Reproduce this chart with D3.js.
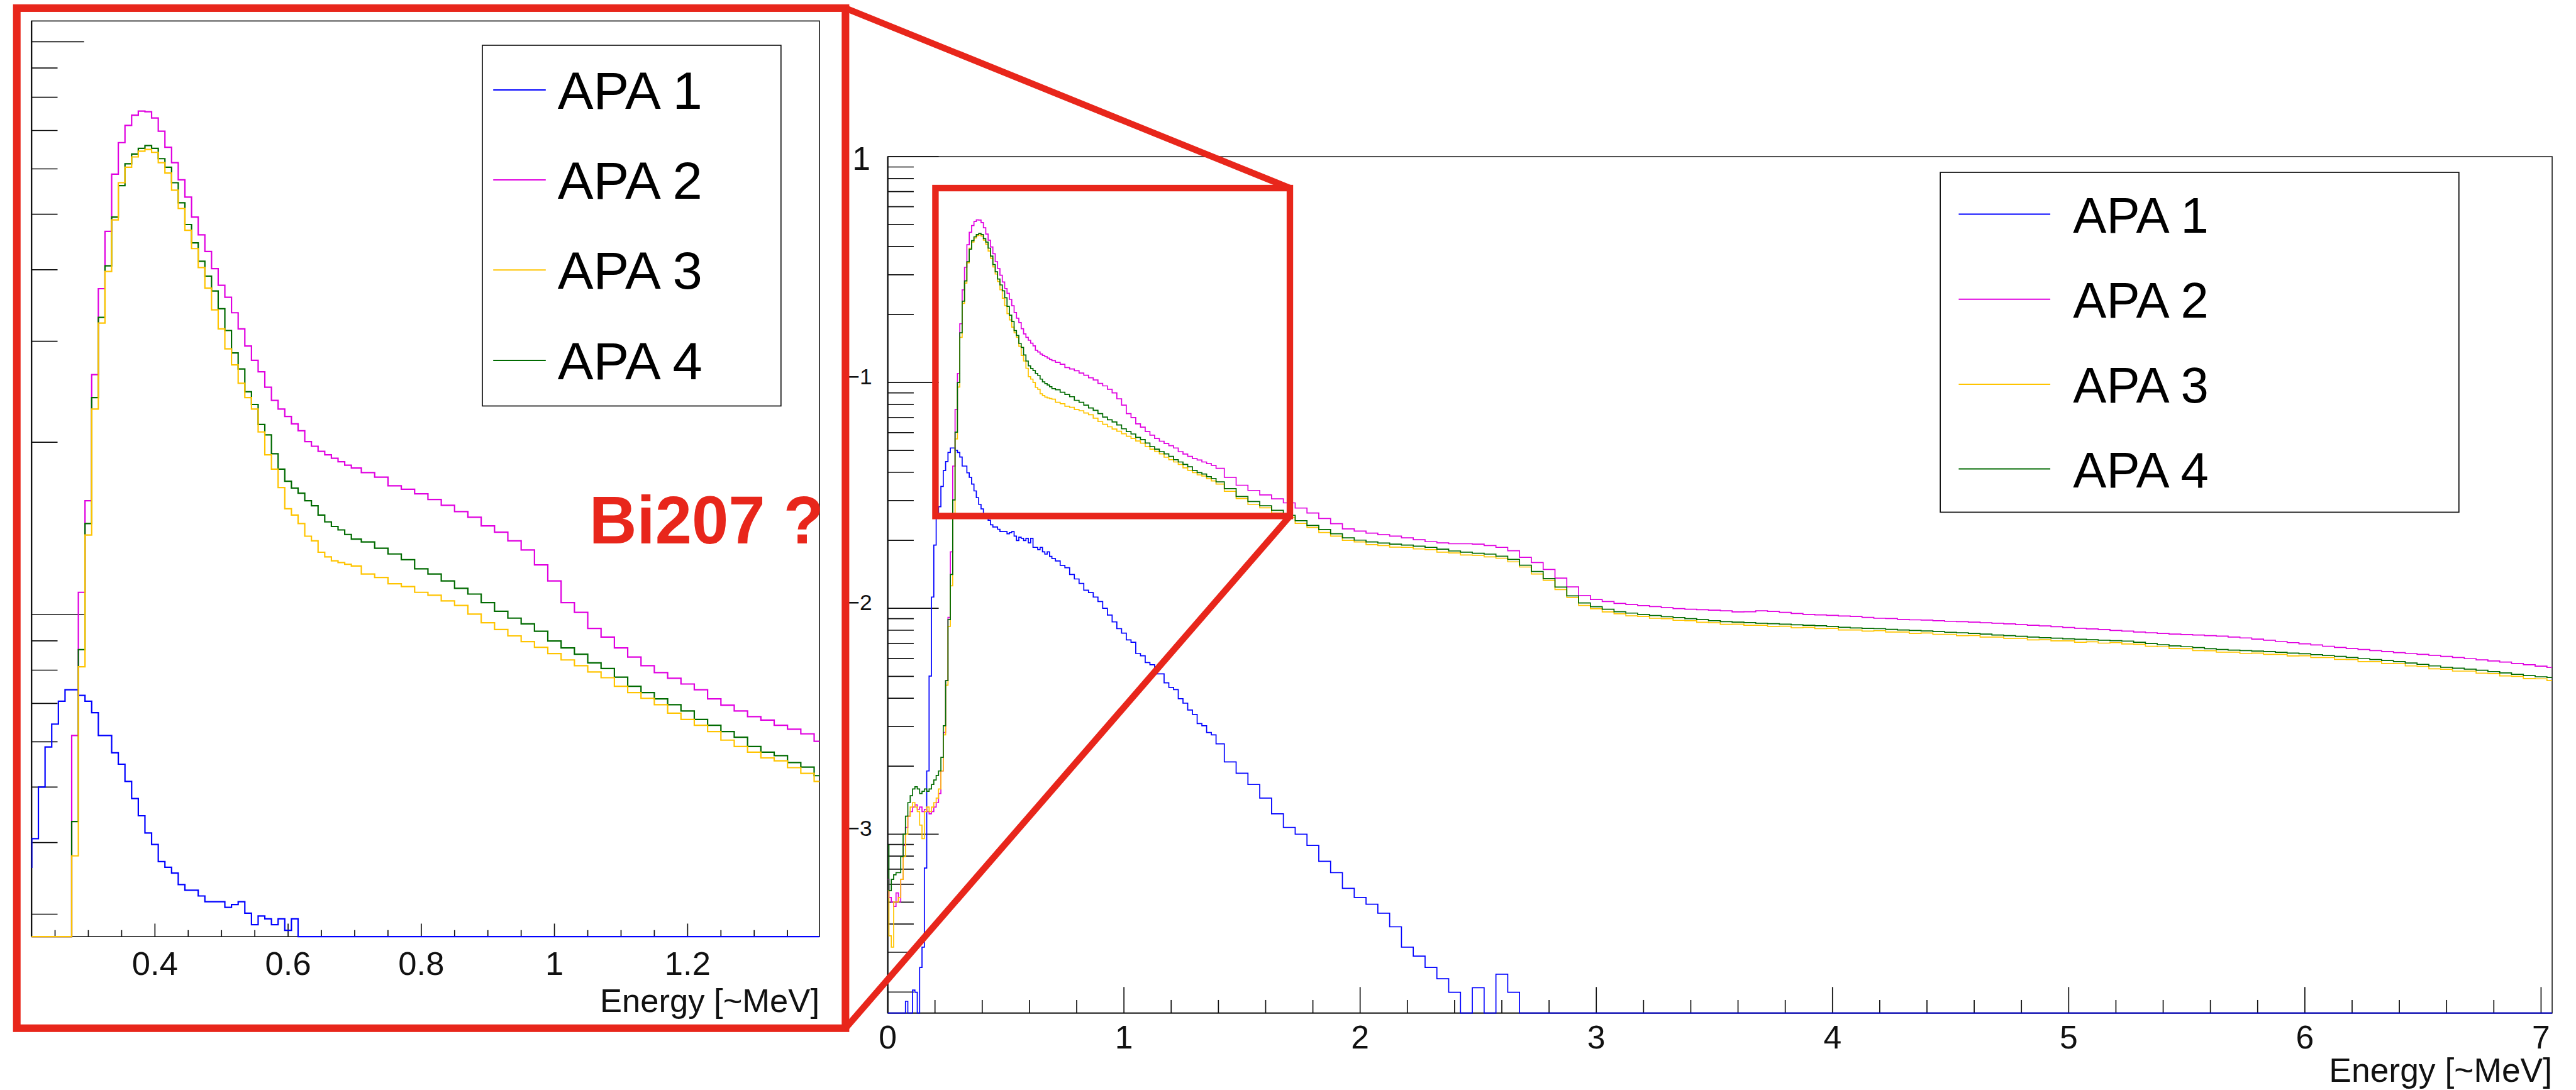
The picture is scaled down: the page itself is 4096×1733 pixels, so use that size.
<!DOCTYPE html>
<html>
<head>
<meta charset="utf-8">
<script src="https://cdn.jsdelivr.net/npm/d3@7"></script>
<style>
  html, body { margin: 0; padding: 0; background: #fff; overflow: hidden; }
  svg { display: block; }
</style>
</head>
<body>
<svg id="chart" width="4096" height="1733"></svg>
<script>
// Energy bin centres [~MeV]
const energy = [
  0, .01, .02, .03, .04, .05, .06, .07, .08, .09, .10, .11, .12, .13, .14, .15, .16, .17, .18, .19,
  .20, .21, .22, .23, .24, .25, .26, .27, .28, .29, .30, .31, .32, .33, .34, .35, .36, .37, .38, .39,
  .40, .41, .42, .43, .44, .45, .46, .47, .48, .49, .50, .51, .52, .53, .54, .55, .56, .57, .58, .59,
  .60, .61, .62, .63, .64, .65, .66, .67, .68, .69, .70,
  .72, .74, .76, .78, .80, .82, .84, .86, .88, .90, .92, .94, .96, .98, 1.00, 1.02, 1.04, 1.06, 1.08,
  1.10, 1.12, 1.14, 1.16, 1.18, 1.20, 1.22, 1.24, 1.26, 1.28, 1.30, 1.32, 1.34, 1.36, 1.38, 1.40,
  1.45, 1.50, 1.55, 1.60, 1.65, 1.70, 1.75, 1.80, 1.85, 1.90, 1.95, 2.00, 2.05, 2.10, 2.15, 2.20,
  2.25, 2.30, 2.35, 2.40, 2.45, 2.50, 2.55, 2.60, 2.65, 2.70, 2.75, 2.80, 2.85, 2.90, 2.95, 3.00,
  3.05, 3.10, 3.15, 3.20, 3.25, 3.30, 3.35, 3.40, 3.45, 3.50, 3.55, 3.60, 3.65, 3.70, 3.75, 3.80,
  3.85, 3.90, 3.95, 4.00, 4.05, 4.10, 4.15, 4.20, 4.25, 4.30, 4.35, 4.40, 4.45, 4.50, 4.55, 4.60,
  4.65, 4.70, 4.75, 4.80, 4.85, 4.90, 4.95, 5.00, 5.05, 5.10, 5.15, 5.20, 5.25, 5.30, 5.35, 5.40,
  5.45, 5.50, 5.55, 5.60, 5.65, 5.70, 5.75, 5.80, 5.85, 5.90, 5.95, 6.00, 6.05, 6.10, 6.15, 6.20,
  6.25, 6.30, 6.35, 6.40, 6.45, 6.50, 6.55, 6.60, 6.65, 6.70, 6.75, 6.80, 6.85, 6.90, 6.95, 7.00, 7.05
];

// log10 of the normalised counts per bin; null marks an empty bin
const apa1 = [
  null, null, null, null, null, null, null, null, -3.74, null, null, -3.69, -3.70, null, -3.59, -3.50,
  -3.15, -2.72, -2.30, -1.95, -1.72, -1.60, -1.55, -1.46, -1.39, -1.35, -1.31, -1.29, -1.29, -1.30,
  -1.31, -1.33, -1.37, -1.37, -1.40, -1.42, -1.45, -1.48, -1.51, -1.54, -1.56, -1.59, -1.60, -1.61,
  -1.63, -1.64, -1.64, -1.65, -1.66, -1.66, -1.66, -1.67, -1.665, -1.66, -1.68, -1.70, -1.685, -1.69,
  -1.70, -1.69, -1.71, -1.69, -1.73, -1.73, -1.74, -1.73, -1.75, -1.76, -1.75, -1.77, -1.78,
  -1.79, -1.81, -1.82, -1.85, -1.87, -1.89, -1.92, -1.93, -1.95, -1.97, -2.00, -2.03, -2.06, -2.09,
  -2.11, -2.14, -2.15, -2.20, -2.21, -2.24, -2.25, -2.29, -2.29, -2.33, -2.35, -2.36, -2.40, -2.42,
  -2.45, -2.47, -2.51, -2.52, -2.55, -2.56, -2.60,
  -2.68, -2.73, -2.78, -2.84, -2.91, -2.97, -3.00, -3.05, -3.12, -3.17, -3.24, -3.28, -3.31, -3.35,
  -3.41, -3.50, -3.54, -3.59, -3.64, -3.70, null, -3.68, null, -3.62, -3.70
];

const apa2 = [
  -3.20, -3.28, -3.30, -3.32, -3.26, -3.30, -3.20, -3.05, -2.97, -2.92, -2.90, -2.88, -2.87, -2.89,
  -2.88, -2.90, -2.89, -2.90, -2.91, -2.90, -2.88, -2.86, -2.82, -2.72, -2.55, -2.32, -2.04, -1.75,
  -1.37, -1.12, -0.96, -0.74, -0.59, -0.49, -0.39, -0.335, -0.305, -0.287, -0.280, -0.281, -0.292,
  -0.315, -0.343, -0.370, -0.400, -0.430, -0.465, -0.496, -0.525, -0.555, -0.584, -0.605, -0.632,
  -0.660, -0.690, -0.715, -0.735, -0.762, -0.785, -0.800, -0.813, -0.826, -0.838, -0.857, -0.865,
  -0.874, -0.880, -0.886, -0.892, -0.898, -0.903,
  -0.911, -0.919, -0.934, -0.940, -0.948, -0.958, -0.968, -0.979, -0.989, -1.004, -1.015, -1.030,
  -1.046, -1.072, -1.100, -1.138, -1.155, -1.183, -1.198, -1.217, -1.233, -1.248, -1.260, -1.270,
  -1.280, -1.290, -1.306, -1.317, -1.327, -1.337, -1.343, -1.352, -1.359, -1.367, -1.380,
  -1.420, -1.455, -1.478, -1.498, -1.515, -1.533, -1.556, -1.578, -1.602, -1.625, -1.648,
  -1.658, -1.667, -1.674, -1.680, -1.688, -1.696, -1.705, -1.710, -1.714, -1.714,
  -1.716, -1.722, -1.730, -1.745, -1.774, -1.797, -1.828, -1.866, -1.905, -1.943,
  -1.961, -1.970, -1.978, -1.983, -1.988, -1.992, -1.997, -2.001, -2.004, -2.006,
  -2.008, -2.011, -2.016, -2.015, -2.011, -2.014, -2.018, -2.023, -2.027, -2.029,
  -2.031, -2.034, -2.036, -2.040, -2.044, -2.045, -2.049, -2.051, -2.052, -2.055,
  -2.058, -2.059, -2.061, -2.064, -2.066, -2.069, -2.072, -2.075, -2.078, -2.081,
  -2.085, -2.088, -2.091, -2.094, -2.098, -2.101, -2.105, -2.108, -2.111, -2.114,
  -2.116, -2.118, -2.121, -2.123, -2.127, -2.131, -2.136, -2.141, -2.147, -2.152,
  -2.157, -2.162, -2.168, -2.173, -2.178, -2.182, -2.187, -2.191, -2.196, -2.200,
  -2.204, -2.208, -2.213, -2.218, -2.223, -2.228, -2.233, -2.238, -2.244, -2.250,
  -2.256, -2.262
];

const apa3 = [
  -3.25, -3.45, -3.50, -3.30, -3.30, -3.28, -3.20, -3.10, -3.00, -2.92, -2.88, -2.86, -2.88, -2.90,
  -2.96, -3.02, -2.90, -2.88, -2.90, -2.88, -2.86, -2.84, -2.80, -2.72, -2.56, -2.34, -2.08, -1.90,
  -1.58, -1.25, -1.02, -0.80, -0.65, -0.56, -0.47, -0.405, -0.378, -0.360, -0.350, -0.347, -0.352,
  -0.370, -0.388, -0.418, -0.450, -0.488, -0.520, -0.553, -0.589, -0.627, -0.660, -0.695, -0.723,
  -0.755, -0.780, -0.800, -0.840, -0.880, -0.905, -0.937, -0.974, -0.985, -1.000, -1.022, -1.030,
  -1.050, -1.058, -1.065, -1.068, -1.071, -1.074,
  -1.088, -1.094, -1.105, -1.110, -1.120, -1.125, -1.135, -1.143, -1.158, -1.173, -1.185, -1.196,
  -1.206, -1.216, -1.227, -1.238, -1.248, -1.259, -1.269, -1.284, -1.295, -1.305, -1.316, -1.331,
  -1.342, -1.352, -1.363, -1.378, -1.389, -1.399, -1.409, -1.414, -1.426, -1.436, -1.450,
  -1.482, -1.514, -1.540, -1.555, -1.578, -1.597, -1.624, -1.642, -1.664, -1.680, -1.699,
  -1.706, -1.718, -1.722, -1.729, -1.730, -1.737, -1.740, -1.751, -1.755, -1.764,
  -1.765, -1.772, -1.778, -1.794, -1.817, -1.848, -1.876, -1.917, -1.952, -1.987,
  -2.002, -2.016, -2.024, -2.033, -2.036, -2.044, -2.046, -2.053, -2.055, -2.062,
  -2.064, -2.071, -2.070, -2.075, -2.075, -2.080, -2.079, -2.086, -2.084, -2.090,
  -2.089, -2.096, -2.096, -2.101, -2.099, -2.105, -2.105, -2.111, -2.109, -2.115,
  -2.115, -2.121, -2.120, -2.127, -2.127, -2.133, -2.133, -2.140, -2.139, -2.144,
  -2.144, -2.150, -2.148, -2.154, -2.152, -2.158, -2.159, -2.168, -2.170, -2.178,
  -2.179, -2.187, -2.188, -2.194, -2.194, -2.200, -2.198, -2.204, -2.204, -2.211,
  -2.210, -2.218, -2.218, -2.226, -2.227, -2.236, -2.236, -2.244, -2.245, -2.255,
  -2.257, -2.268, -2.270, -2.278, -2.278, -2.287, -2.289, -2.299, -2.301, -2.311,
  -2.312, -2.320
];

const apa4 = [
  -3.05, -3.25, -3.20, -3.18, -3.17, -3.17, -3.10, -3.00, -2.92, -2.86, -2.83, -2.80, -2.79, -2.80,
  -2.82, -2.81, -2.80, -2.81, -2.80, -2.78, -2.76, -2.74, -2.72, -2.66, -2.52, -2.32, -2.05, -1.85,
  -1.52, -1.22, -1.00, -0.78, -0.64, -0.55, -0.465, -0.410, -0.372, -0.355, -0.345, -0.340, -0.345,
  -0.363, -0.378, -0.405, -0.440, -0.478, -0.510, -0.542, -0.568, -0.594, -0.625, -0.663, -0.702,
  -0.730, -0.770, -0.792, -0.827, -0.845, -0.878, -0.905, -0.926, -0.938, -0.947, -0.960, -0.969,
  -0.985, -0.997, -1.005, -1.011, -1.019, -1.027,
  -1.032, -1.043, -1.053, -1.063, -1.079, -1.088, -1.100, -1.113, -1.123, -1.138, -1.153, -1.165,
  -1.175, -1.188, -1.205, -1.217, -1.228, -1.243, -1.253, -1.268, -1.284, -1.295, -1.306, -1.316,
  -1.327, -1.342, -1.352, -1.363, -1.373, -1.389, -1.399, -1.405, -1.417, -1.425, -1.440,
  -1.470, -1.505, -1.527, -1.546, -1.566, -1.588, -1.612, -1.633, -1.651, -1.670, -1.688,
  -1.698, -1.706, -1.711, -1.716, -1.720, -1.725, -1.730, -1.738, -1.746, -1.751,
  -1.756, -1.760, -1.769, -1.783, -1.809, -1.837, -1.868, -1.906, -1.945, -1.976,
  -1.993, -2.004, -2.015, -2.021, -2.027, -2.032, -2.037, -2.041, -2.046, -2.050,
  -2.055, -2.059, -2.061, -2.063, -2.066, -2.068, -2.070, -2.073, -2.075, -2.077,
  -2.080, -2.084, -2.087, -2.089, -2.090, -2.093, -2.096, -2.098, -2.100, -2.103,
  -2.106, -2.108, -2.111, -2.114, -2.118, -2.121, -2.124, -2.127, -2.130, -2.132,
  -2.135, -2.137, -2.139, -2.141, -2.143, -2.145, -2.150, -2.156, -2.161, -2.166,
  -2.170, -2.174, -2.179, -2.182, -2.185, -2.187, -2.189, -2.191, -2.195, -2.198,
  -2.201, -2.205, -2.209, -2.213, -2.218, -2.223, -2.227, -2.231, -2.236, -2.242,
  -2.248, -2.255, -2.261, -2.265, -2.269, -2.274, -2.280, -2.286, -2.292, -2.298,
  -2.303, -2.306
];

const seriesNames = ["APA 1", "APA 2", "APA 3", "APA 4"];
const seriesColors = ["#0000ff", "#e000e0", "#ffc400", "#006a00"];
const seriesData = [apa1, apa2, apa3, apa4];

const xTickLabels = ["0", "1", "2", "3", "4", "5", "6", "7"];
const insetTickLabels = ["0.4", "0.6", "0.8", "1", "1.2"];
const axisTitle = "Energy [~MeV]";
const note = "Bi207 ?";

// the zoomed panel shows the same spectra with a different normalisation
const insetNorm = 1.442;

// ---------------------------------------------------------------------------
const S = 4096 / 4753;            // all layout numbers below are in canvas units * S
const FONT = "'Liberation Sans', Arial, Helvetica, sans-serif";
const RED = "#e8261b";
const svg = d3.select("#chart");

const main = { l: 1638 * S, r: 4709 * S, t: 289 * S, b: 1869 * S };
const inset = { l: 58.2 * S, r: 1512 * S, t: 38.7 * S, b: 1728 * S };

const xMain = d3.scaleLinear().domain([0, 7.047]).range([main.l, main.r]);
const yMain = d3.scaleLog().domain([Math.pow(10, -3.792), 1]).range([main.b, main.t]).clamp(true);

const xIn = d3.scaleLinear().domain([0.2147, 1.398]).range([inset.l, inset.r]);
const yIn = d3.scaleLog().domain([Math.pow(10, -1.562), Math.pow(10, 0.0363)]).range([inset.b, inset.t]).clamp(true);

function points(arr, norm) {
  return energy.map((e, i) => {
    const v = arr[i];
    return [e, (v === null || v === undefined) ? 0 : Math.pow(10, v) * norm];
  });
}

function histLine(xs, ys) {
  const floor = ys.domain()[0];
  return d3.line().curve(d3.curveStep)
    .x(d => xs(d[0]))
    .y(d => ys(d[1] > 0 ? d[1] : floor));
}

// ---------------- main panel ----------------
const gMain = svg.append("g");
gMain.append("clipPath").attr("id", "clipMain")
  .append("rect").attr("x", main.l).attr("y", main.t)
  .attr("width", main.r - main.l).attr("height", main.b - main.t + 2);

// frame and axis lines
gMain.append("rect").attr("x", main.l).attr("y", main.t)
  .attr("width", main.r - main.l).attr("height", main.b - main.t)
  .attr("fill", "none").attr("stroke", "#222").attr("stroke-width", 1.6);
gMain.append("line").attr("x1", main.l).attr("x2", main.l).attr("y1", main.t).attr("y2", main.b)
  .attr("stroke", "#111").attr("stroke-width", 2.2);
gMain.append("line").attr("x1", main.l).attr("x2", main.r).attr("y1", main.b).attr("y2", main.b)
  .attr("stroke", "#111").attr("stroke-width", 1.8);

// y ticks (log)
const yTicksMain = yMain.ticks();
gMain.selectAll("line.yt").data(yTicksMain).join("line").attr("class", "yt")
  .attr("x1", main.l)
  .attr("x2", d => main.l + (Math.abs(Math.log10(d) - Math.round(Math.log10(d))) < 1e-9 ? 94 : 48) * S)
  .attr("y1", d => yMain(d)).attr("y2", d => yMain(d))
  .attr("stroke", "#111").attr("stroke-width", 1.7);

const yMajorMain = [1, 0.1, 0.01, 0.001];
gMain.selectAll("text.yl").data(yMajorMain).join("text").attr("class", "yl")
  .attr("x", d => (d === 1 ? 1606 : 1609) * S)
  .attr("y", d => yMain(d) + (d === 1 ? 24 : 3) * S)
  .attr("text-anchor", "end")
  .attr("font-family", FONT)
  .attr("font-size", d => (d === 1 ? 60 : 41) * S)
  .attr("fill", "#111")
  .text(d => d === 1 ? "1" : "\u2212" + Math.round(-Math.log10(d)));

// x ticks
const xMinorMain = d3.range(0, 36).map(i => i * 0.2);
gMain.selectAll("line.xt").data(xMinorMain).join("line").attr("class", "xt")
  .attr("x1", d => xMain(d)).attr("x2", d => xMain(d))
  .attr("y1", main.b)
  .attr("y2", (d, i) => main.b - (i % 5 === 0 ? 48 : 24) * S)
  .attr("stroke", "#111").attr("stroke-width", 1.7);
gMain.selectAll("text.xl").data(xTickLabels).join("text").attr("class", "xl")
  .attr("x", (d, i) => xMain(i)).attr("y", 1934 * S)
  .attr("text-anchor", "middle").attr("font-family", FONT)
  .attr("font-size", 60 * S).attr("fill", "#111").text(d => d);
gMain.append("text").attr("x", main.r).attr("y", 1996 * S)
  .attr("text-anchor", "end").attr("font-family", FONT)
  .attr("font-size", 62 * S).attr("fill", "#111").text(axisTitle);

// spectra
const lineMain = histLine(xMain, yMain);
const mainOrder = [0, 1, 2, 3];
gMain.append("g").attr("clip-path", "url(#clipMain)")
  .selectAll("path").data(mainOrder).join("path")
  .attr("d", i => lineMain(points(seriesData[i], 1)))
  .attr("fill", "none")
  .attr("stroke", i => seriesColors[i])
  .attr("stroke-width", 1.7)
  .attr("stroke-linejoin", "miter");

// legend
const legM = { l: 3580 * S, r: 4537 * S, t: 318 * S, b: 945 * S };
gMain.append("rect").attr("x", legM.l).attr("y", legM.t)
  .attr("width", legM.r - legM.l).attr("height", legM.b - legM.t)
  .attr("fill", "#fff").attr("stroke", "#111").attr("stroke-width", 1.7);
const legMRows = [395, 552, 709, 865];
seriesNames.forEach((name, i) => {
  const yy = legMRows[i] * S;
  gMain.append("line").attr("x1", 3614 * S).attr("x2", 3783 * S).attr("y1", yy).attr("y2", yy)
    .attr("stroke", seriesColors[i]).attr("stroke-width", 2);
  gMain.append("text").attr("x", 3825 * S).attr("y", yy + 34 * S)
    .attr("font-family", FONT).attr("font-size", 92 * S).attr("fill", "#000")
    .attr("textLength", 250 * S).attr("lengthAdjust", "spacingAndGlyphs")
    .text(name);
});

// ---------------- zoomed panel ----------------
const gIn = svg.append("g");
gIn.append("rect").attr("x", 0).attr("y", 0).attr("width", 1560 * S).attr("height", 1897 * S)
  .attr("fill", "#fff");
gIn.append("clipPath").attr("id", "clipIn")
  .append("rect").attr("x", inset.l).attr("y", inset.t)
  .attr("width", inset.r - inset.l).attr("height", inset.b - inset.t + 2);

gIn.append("rect").attr("x", inset.l).attr("y", inset.t)
  .attr("width", inset.r - inset.l).attr("height", inset.b - inset.t)
  .attr("fill", "none").attr("stroke", "#222").attr("stroke-width", 1.7);
gIn.append("line").attr("x1", inset.l).attr("x2", inset.l).attr("y1", inset.t).attr("y2", inset.b)
  .attr("stroke", "#111").attr("stroke-width", 2.4);

const yTicksIn = yIn.ticks();
gIn.selectAll("line.yt").data(yTicksIn).join("line").attr("class", "yt")
  .attr("x1", inset.l)
  .attr("x2", d => inset.l + (Math.abs(Math.log10(d) - Math.round(Math.log10(d))) < 1e-9 ? 97 : 48) * S)
  .attr("y1", d => yIn(d)).attr("y2", d => yIn(d))
  .attr("stroke", "#111").attr("stroke-width", 1.7);

const xMinorIn = d3.range(5, 28).map(i => i * 0.05);
gIn.selectAll("line.xt").data(xMinorIn).join("line").attr("class", "xt")
  .attr("x1", d => xIn(d)).attr("x2", d => xIn(d))
  .attr("y1", inset.b)
  .attr("y2", (d, i) => inset.b - ((i + 5) % 4 === 0 ? 24 : 12) * S)
  .attr("stroke", "#111").attr("stroke-width", 1.7);
gIn.selectAll("text.xl").data(insetTickLabels).join("text").attr("class", "xl")
  .attr("x", d => xIn(+d)).attr("y", 1799 * S)
  .attr("text-anchor", "middle").attr("font-family", FONT)
  .attr("font-size", 61 * S).attr("fill", "#111").text(d => d);
gIn.append("text").attr("x", inset.r).attr("y", 1867 * S)
  .attr("text-anchor", "end").attr("font-family", FONT)
  .attr("font-size", 61 * S).attr("fill", "#111").text(axisTitle);

const lineIn = histLine(xIn, yIn);
const insetOrder = [0, 1, 3, 2];
gIn.append("g").attr("clip-path", "url(#clipIn)")
  .selectAll("path").data(insetOrder).join("path")
  .attr("d", i => lineIn(points(seriesData[i], insetNorm)))
  .attr("fill", "none")
  .attr("stroke", i => seriesColors[i])
  .attr("stroke-width", 2.2);

const legI = { l: 890 * S, r: 1441 * S, t: 83.5 * S, b: 749 * S };
gIn.append("rect").attr("x", legI.l).attr("y", legI.t)
  .attr("width", legI.r - legI.l).attr("height", legI.b - legI.t)
  .attr("fill", "#fff").attr("stroke", "#111").attr("stroke-width", 1.7);
const legIRows = [166, 332, 498, 665];
seriesNames.forEach((name, i) => {
  const yy = legIRows[i] * S;
  gIn.append("line").attr("x1", 910 * S).attr("x2", 1007 * S).attr("y1", yy).attr("y2", yy)
    .attr("stroke", seriesColors[i]).attr("stroke-width", 2);
  gIn.append("text").attr("x", 1029 * S).attr("y", yy + 35 * S)
    .attr("font-family", FONT).attr("font-size", 96 * S).attr("fill", "#000")
    .attr("textLength", 267 * S).attr("lengthAdjust", "spacingAndGlyphs")
    .text(name);
});

// ---------------- annotations ----------------
const gAnn = svg.append("g").attr("fill", "none").attr("stroke", RED);
gAnn.append("rect").attr("x", 31 * S).attr("y", 15 * S)
  .attr("width", (1560 - 31) * S).attr("height", (1897 - 15) * S)
  .attr("stroke-width", 14 * S);
gAnn.append("rect").attr("x", 1726 * S).attr("y", 347 * S)
  .attr("width", (2380 - 1726) * S).attr("height", (952 - 347) * S)
  .attr("stroke-width", 12 * S);
gAnn.append("line").attr("x1", 1560 * S).attr("y1", 15 * S).attr("x2", 2380 * S).attr("y2", 347 * S)
  .attr("stroke-width", 12 * S);
gAnn.append("line").attr("x1", 1560 * S).attr("y1", 1897 * S).attr("x2", 2380 * S).attr("y2", 952 * S)
  .attr("stroke-width", 12 * S);

svg.append("text").attr("x", 1087 * S).attr("y", 1003 * S)
  .attr("font-family", FONT).attr("font-weight", "bold")
  .attr("font-size", 124 * S).attr("fill", RED)
  .attr("textLength", 433 * S).attr("lengthAdjust", "spacingAndGlyphs")
  .text(note);
</script>
</body>
</html>
